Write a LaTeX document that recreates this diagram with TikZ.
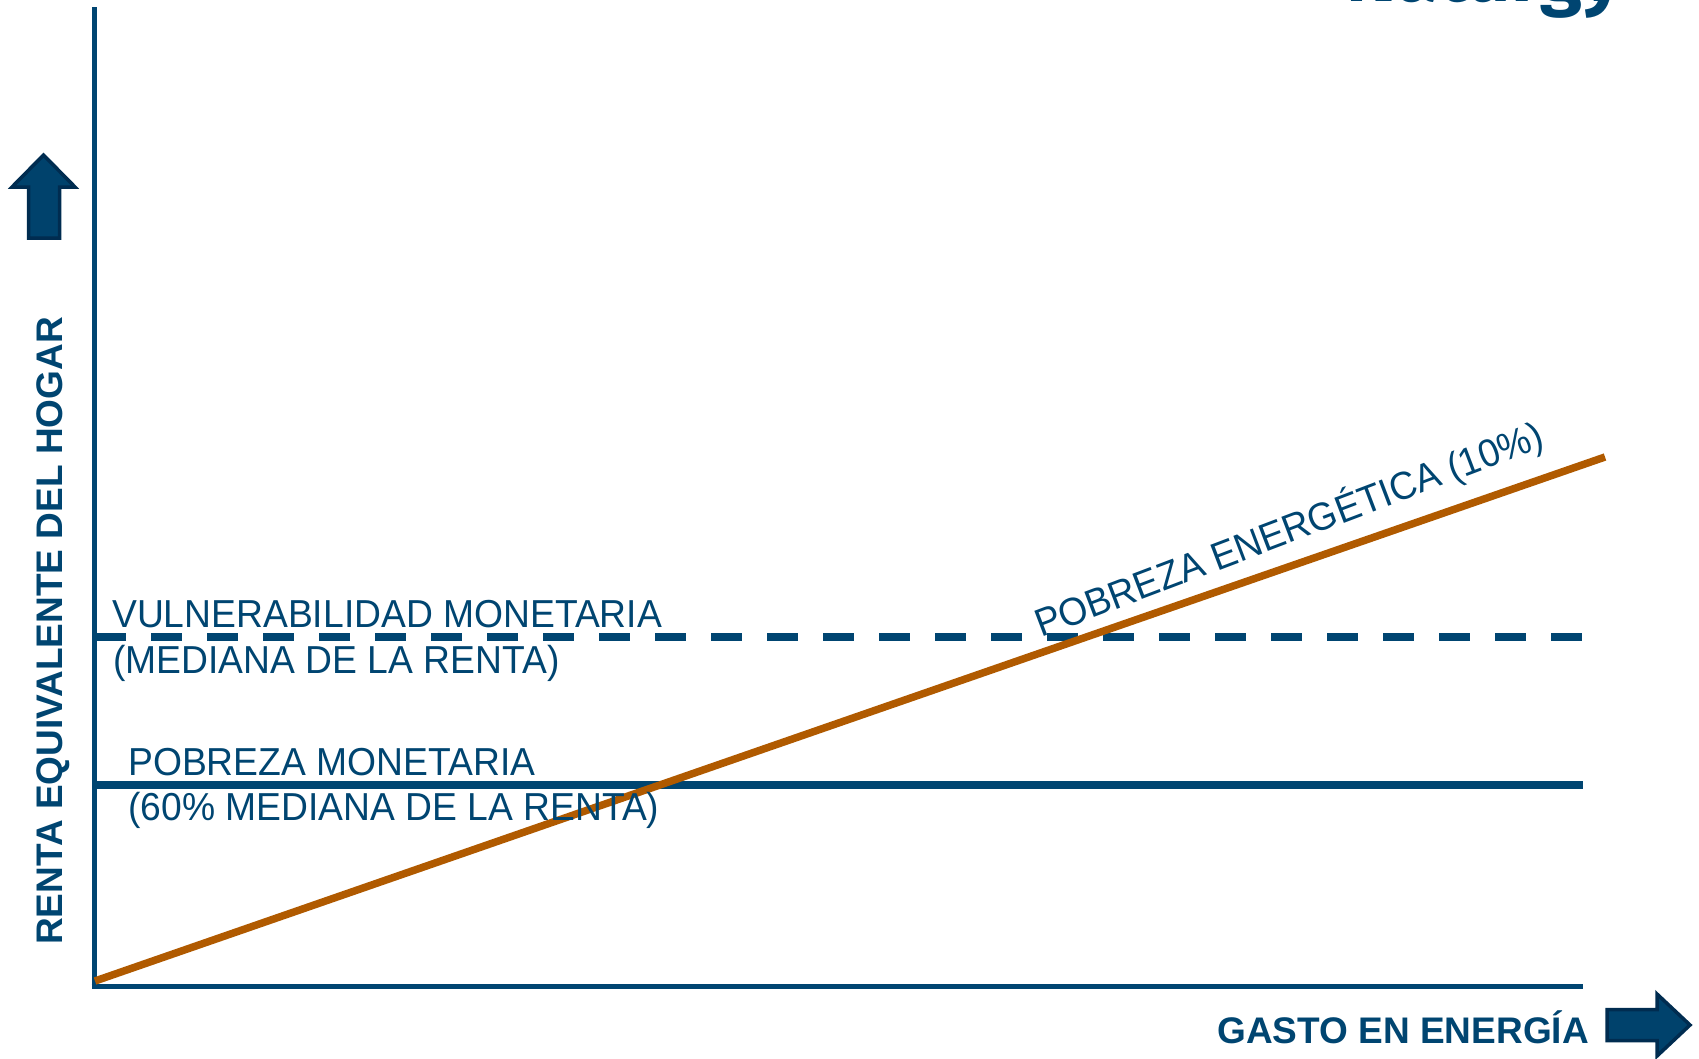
\documentclass[tikz,border=0pt]{standalone}
\usepackage{fontspec}
\setmainfont{Liberation Sans}
\newfontfamily\narrowfont[FakeStretch=0.955]{Liberation Sans}
\newfontfamily\logofont{Fira Sans}
\definecolor{navy}{HTML}{004571}
\definecolor{arrowfill}{HTML}{00426C}
\definecolor{arrowedge}{HTML}{002C50}
\definecolor{burnt}{HTML}{B05A00}
\tikzset{
  axisline/.style={navy, line width=5pt},
  levelline/.style={navy, line width=8pt},
  dashlevel/.style={navy, line width=8pt, dash pattern=on 31pt off 25pt},
  povline/.style={burnt, line width=7.5pt},
  lbl/.style={navy, inner sep=0pt, anchor=base west, font=\narrowfont\fontsize{39}{42}\selectfont},
  axlbl/.style={navy, inner sep=0pt, font=\fontsize{37}{40}\selectfont\bfseries},
  bigarrow/.style={fill=arrowfill, draw=arrowedge, line width=3.5pt, line join=miter}
}
\begin{document}
\begin{tikzpicture}[x=1pt,y=-1pt]
\useasboundingbox (0,0) rectangle (1699,1058);
\begin{scope}
\clip (0,0) rectangle (1699,1058);
% logo (clipped at top)
\node[navy, inner sep=0pt, anchor=base east, font=\fontsize{76}{80}\selectfont\logofont\bfseries] (logo) at (1622,1) {Naturgy};

% axes
\coordinate (origin) at (94,986);
\coordinate (ytop) at (94,7);
\coordinate (xend) at (1583,986);
\draw[axisline] (ytop) -- (94,988.5);
\draw[axisline] (91.5,986) -- (xend);

% levels
\coordinate (vulnL) at (95,637);
\coordinate (vulnR) at (1582,637);
\draw[dashlevel] (vulnL) -- (vulnR);
\coordinate (pobL) at (94,785);
\coordinate (pobR) at (1583,785);
\draw[levelline] (pobL) -- (pobR);

% energy poverty line
\coordinate (eS) at (95,981);
\coordinate (eE) at (1605,457);
\draw[povline] (eS) -- (eE);

% labels
\node[lbl] (vuln1) at (112,627) {VULNERABILIDAD MONETARIA};
\node[lbl] (vuln2) at (113,673) {(MEDIANA DE LA RENTA)};
\node[lbl] (pob1) at (128,775) {POBREZA MONETARIA};
\node[lbl] (pob2) at (128,820) {(60\% MEDIANA DE LA RENTA)};
\node[lbl, rotate=20.8] (ener) at (1041,638) {POBREZA ENERGÉTICA (10\%)};

\node[axlbl, rotate=90, anchor=base west] (ylab) at (62,945) {RENTA EQUIVALENTE DEL HOGAR};
\node[axlbl, anchor=base east] (xlab) at (1589,1043) {GASTO EN ENERGÍA};

% arrows
\draw[bigarrow] (28.5,238) -- (28.5,187) -- (12,187) -- (43.5,155) -- (75,187) -- (59.5,187) -- (59.5,238) -- cycle;
\draw[bigarrow] (1607,1009.5) -- (1657,1009.5) -- (1657,994) -- (1690,1025) -- (1657,1056) -- (1657,1040.5) -- (1607,1040.5) -- cycle;
\end{scope}
\end{tikzpicture}
\end{document}
